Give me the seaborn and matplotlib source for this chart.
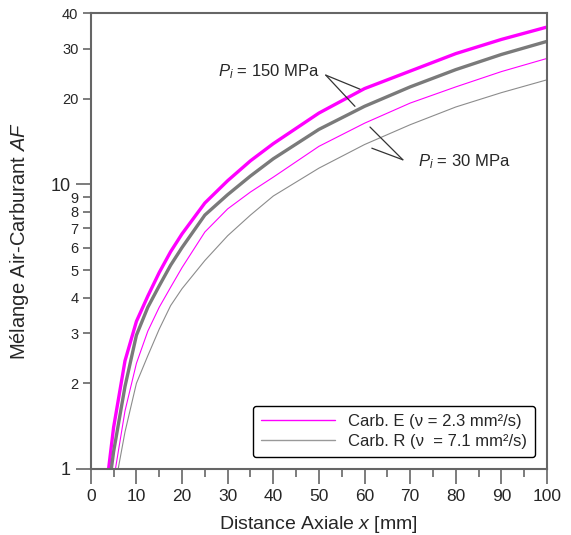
import numpy as np
import pandas as pd
import seaborn as sns
import matplotlib
matplotlib.use("Agg")
from matplotlib import pyplot as plt
from matplotlib.lines import Line2D
from matplotlib.ticker import FixedLocator, FixedFormatter

# values (AF vs axial distance)
x_e150 = [3.9, 5, 7.5, 10, 12.5, 15, 17.5, 20, 25, 30, 35, 40, 50, 60, 70, 80, 90, 100]
af_e150 = [1.0, 1.4, 2.4, 3.3, 4.05, 4.9, 5.8, 6.7, 8.6, 10.3, 12.1, 13.9, 17.8, 21.7, 25.0, 28.8, 32.3, 35.7]

x_r150 = [4.5, 5, 7.5, 10, 12.5, 15, 17.5, 20, 25, 30, 35, 40, 50, 60, 70, 80, 90, 100]
af_r150 = [1.0, 1.15, 1.95, 2.95, 3.7, 4.4, 5.2, 6.0, 7.8, 9.2, 10.7, 12.3, 15.6, 18.8, 22.0, 25.3, 28.6, 31.8]

x_e30 = [5.4, 7.5, 10, 12.5, 15, 17.5, 20, 25, 30, 35, 40, 50, 60, 70, 80, 90, 100]
af_e30 = [1.0, 1.6, 2.35, 3.05, 3.7, 4.35, 5.1, 6.8, 8.2, 9.4, 10.6, 13.6, 16.4, 19.3, 22.0, 24.9, 27.7]

x_r30 = [6.0, 7.5, 10, 12.5, 15, 17.5, 20, 25, 30, 35, 40, 50, 60, 70, 80, 90, 100]
af_r30 = [1.0, 1.35, 2.0, 2.5, 3.1, 3.75, 4.3, 5.4, 6.6, 7.8, 9.1, 11.4, 13.8, 16.2, 18.7, 21.0, 23.3]

legend_labels = ["Carb. E (ν = 2.3 mm²/s)", "Carb. R (ν  = 7.1 mm²/s)"]

sns.set_style("ticks")
plt.rcParams['font.family'] = ['Liberation Sans', 'DejaVu Sans']
plt.rcParams['mathtext.fontset'] = 'custom'
plt.rcParams['mathtext.rm'] = 'Liberation Sans'
plt.rcParams['mathtext.it'] = 'Liberation Sans:italic'

MAG = '#ff00ff'
GRAY = '#7a7a7a'
AXC = '#666666'

fig = plt.figure(figsize=(5.71, 5.35), dpi=100)
ax = fig.add_axes([0.159, 0.1234, 0.799, 0.8523])

series = [
    (x_e150, af_e150, MAG, 2.4),
    (x_r150, af_r150, GRAY, 2.4),
    (x_e30, af_e30, MAG, 0.8),
    (x_r30, af_r30, '#8c8c8c', 0.8),
]
for xs, ys, col, lw in series:
    df = pd.DataFrame({'x': xs, 'af': ys})
    sns.lineplot(data=df, x='x', y='af', color=col, linewidth=lw, ax=ax)

ax.set_yscale('log')
ax.set_xlim(0, 100)
ax.set_ylim(1, 40)

ax.set_xticks(np.arange(0, 101, 10))
ax.set_xticks(np.arange(5, 100, 10), minor=True)
ax.yaxis.set_major_locator(FixedLocator([1, 10]))
ax.yaxis.set_major_formatter(FixedFormatter(['1', '10']))
minor_y = [2, 3, 4, 5, 6, 7, 8, 9, 20, 30, 40]
ax.yaxis.set_minor_locator(FixedLocator(minor_y))
ax.yaxis.set_minor_formatter(FixedFormatter([str(v) for v in minor_y]))

for s in ax.spines.values():
    s.set_color(AXC)
    s.set_linewidth(1.5)
ax.tick_params(which='major', length=11, width=1.2, color=AXC, labelsize=12.5)
ax.tick_params(which='minor', length=5.5, width=1.2, color=AXC, labelsize=12.5)
ax.tick_params(axis='y', which='minor', labelsize=10.5)
ax.tick_params(axis='y', which='major', labelsize=13)

ax.set_xlabel(r'Distance Axiale $\mathit{x}$ [mm]', fontsize=14, labelpad=0)
ax.set_ylabel(r'Mélange Air-Carburant $\mathit{AF}$', fontsize=14.5, labelpad=6)
ax.xaxis.set_label_coords(0.5, -0.098)
ax.yaxis.set_label_coords(-0.130, 0.5)

# annotations
ax.text(27.9, 24.8, r'$\mathit{P_i}$ = 150 MPa', fontsize=12, va='center', ha='left')
ax.plot([51.5, 59.0], [24.2, 21.6], color='#333333', lw=0.9)
ax.plot([51.5, 57.9], [24.2, 18.8], color='#333333', lw=0.9)
ax.text(71.7, 12.0, r'$\mathit{P_i}$ = 30 MPa', fontsize=12, va='center', ha='left')
ax.plot([68.4, 61.2], [12.2, 15.9], color='#333333', lw=0.9)
ax.plot([68.4, 61.6], [12.2, 13.4], color='#333333', lw=0.9)

handles = [Line2D([], [], color=MAG, lw=1.0), Line2D([], [], color='#999999', lw=1.0)]
leg = ax.legend(handles, legend_labels, loc='lower right', fontsize=12,
                handlelength=4.4, frameon=True, fancybox=True,
                borderaxespad=0.7, borderpad=0.5, labelspacing=0.3)
leg.get_frame().set_edgecolor('black')
leg.get_frame().set_linewidth(1.0)
leg.get_frame().set_alpha(1)

fig.savefig('out.png', dpi=100)
